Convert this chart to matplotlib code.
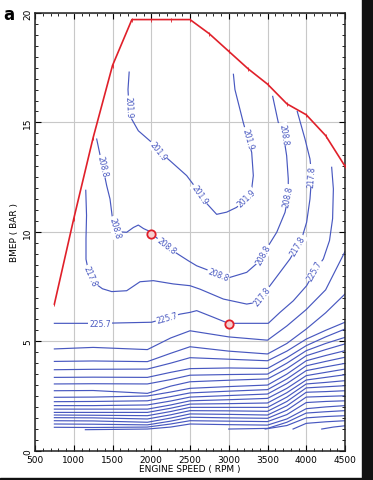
import numpy as np
import matplotlib
matplotlib.use('Agg')
import matplotlib.pyplot as plt
from matplotlib.patches import Rectangle

# full load (WOT) line
WOT_RPM = [750, 1000, 1250, 1500, 1750, 2000, 2250, 2500, 2750, 3000, 3250, 3500, 3750, 4000, 4250, 4500]
WOT_BMEP = [6.7, 10.6, 14.3, 17.6, 19.7, 19.7, 19.7, 19.7, 19.05, 18.25, 17.45, 16.75, 15.85, 15.35, 14.4, 13.0]

# operating points (red circles)
OP_RPM = [2000, 3000]
OP_BMEP = [9.9, 5.8]

# labelled BSFC contours
C1_RPM = [1715, 1700, 1712, 1748, 1833, 2005, 2091, 2242, 2457, 2586, 2715, 2844, 2973, 3102, 3230, 3296,
          3317, 3296, 3187, 3080, 3060]
C1_BMEP = [17.3, 16.5, 15.7, 15.15, 14.62, 14.09, 13.71, 13.25, 12.57, 11.96, 11.3, 10.8, 10.9, 11.12, 11.55,
           11.96, 12.57, 13.63, 15.0, 16.5, 17.2]
C2_RPM = [1296, 1340, 1373, 1425, 1468, 1500, 1532, 1600, 1683, 1770, 1833, 1900, 1962, 2113, 2306, 2478,
          2586, 2865, 3016, 3232, 3403, 3500, 3619, 3726, 3768, 3768, 3747, 3704, 3639, 3567]
C2_BMEP = [14.24, 13.5, 13.0, 12.11, 11.5, 10.6, 10.2, 10.0, 9.98, 10.2, 10.31, 10.15, 10.05, 9.6, 9.07, 8.68,
           8.45, 8.07, 7.92, 8.15, 8.68, 9.3, 9.98, 10.89, 11.65, 12.42, 13.48, 14.47, 15.0, 16.19]
C3_RPM = [1155, 1165, 1158, 1158, 1190, 1253, 1370, 1490, 1683, 1855, 2027, 2285, 2500, 2630, 2930, 3232,
          3360, 3532, 3661, 3790, 3940, 4005, 4048, 4070, 4048, 3984, 3884]
C3_BMEP = [11.9, 10.75, 9.7, 8.75, 8.2, 7.7, 7.4, 7.27, 7.31, 7.72, 7.77, 7.62, 7.54, 7.38, 6.93, 6.7,
           6.78, 7.54, 8.15, 8.76, 9.67, 10.44, 11.5, 12.57, 13.33, 14.24, 15.5]
C4_RPM = [750, 1340, 2005, 2130, 2371, 2500, 2586, 2800, 2995, 3510, 3661, 3833, 4005, 4113, 4220, 4300,
          4340, 4350, 4328]
C4_BMEP = [5.82, 5.82, 5.87, 6.0, 6.24, 6.32, 6.4, 6.1, 5.82, 5.82, 6.32, 6.85, 7.54, 8.22, 8.76, 9.6,
           10.6, 11.96, 12.95]

C1_LABEL, C2_LABEL, C3_LABEL, C4_LABEL = '201.9', '208.8', '217.8', '225.7'
C1_LABEL_AT = [(1712, 15.7), (2091, 13.71), (2629, 11.72), (3210, 11.6), (3270, 14.3)]
C2_LABEL_AT = [(1373, 13.0), (1532, 10.2), (2199, 9.37), (2865, 8.07), (3425, 8.99), (3704, 14.47), (3768, 11.65)]
C3_LABEL_AT = [(1200, 7.95), (3425, 7.08), (3897, 9.37), (4070, 12.57)]
C4_LABEL_AT = [(1339, 5.82), (2199, 6.1), (4113, 8.22)]

# unlabelled low-load contours, sampled at LOW_RPM
LOW_RPM = [750, 1250, 1950, 2250, 2500, 3000, 3500, 3750, 4000, 4250, 4500]
LOW_BMEP = [
    [4.65, 4.72, 4.62, 5.15, 5.48, 5.20, 5.05, 5.70, 6.45, 7.35, 9.10],
    [4.08, 4.10, 4.07, 4.45, 4.75, 4.55, 4.42, 4.90, 5.56, 6.30, 7.16],
    [3.70, 3.72, 3.73, 4.00, 4.25, 4.18, 4.11, 4.55, 5.10, 5.50, 5.87],
    [3.35, 3.36, 3.35, 3.58, 3.75, 3.78, 3.76, 4.25, 4.80, 5.20, 5.56],
    [3.05, 3.06, 3.05, 3.25, 3.45, 3.48, 3.50, 4.00, 4.57, 4.90, 5.18],
    [2.74, 2.75, 2.62, 2.95, 3.15, 3.22, 3.28, 3.75, 4.34, 4.62, 4.88],
    [2.44, 2.45, 2.50, 2.68, 2.85, 2.93, 3.00, 3.50, 4.11, 4.35, 4.57],
    [2.24, 2.25, 2.28, 2.47, 2.64, 2.72, 2.79, 3.28, 3.88, 4.08, 4.27],
    [2.06, 2.06, 2.09, 2.27, 2.45, 2.52, 2.59, 3.07, 3.66, 3.83, 3.99],
    [1.90, 1.90, 1.90, 2.09, 2.28, 2.33, 2.39, 2.85, 3.43, 3.58, 3.73],
    [1.75, 1.75, 1.75, 1.94, 2.13, 2.15, 2.18, 2.65, 3.23, 3.35, 3.47],
    [1.63, 1.62, 1.60, 1.79, 1.98, 1.98, 1.98, 2.45, 3.05, 3.12, 3.20],
    [1.51, 1.50, 1.45, 1.64, 1.83, 1.82, 1.80, 2.25, 2.87, 2.92, 2.97],
    [1.37, 1.36, 1.30, 1.49, 1.68, 1.66, 1.63, 2.05, 2.67, 2.70, 2.74],
    [1.22, 1.21, 1.18, 1.35, 1.53, 1.50, 1.48, 1.85, 2.45, 2.48, 2.51],
    [1.07, 1.06, 1.08, 1.22, 1.37, 1.35, 1.33, 1.65, 2.20, 2.25, 2.28],
]

# contours starting at the minimum load boundary
B1_RPM = [1150, 1950, 2250, 2500, 3000, 3500, 3750, 4000, 4250, 4500]
B1_BMEP = [0.96, 0.99, 1.08, 1.22, 1.19, 1.17, 1.45, 1.92, 2.00, 2.06]
B2_RPM = [3000, 3500, 3750, 4000, 4250, 4500]
B2_BMEP = [0.99, 1.02, 1.30, 1.72, 1.78, 1.83]
B3_RPM = [3470, 3750, 4000, 4250, 4500]
B3_BMEP = [0.99, 1.15, 1.50, 1.56, 1.60]
B4_RPM = [3830, 4000, 4250, 4500]
B4_BMEP = [0.99, 1.25, 1.32, 1.37]
B5_RPM = [4200, 4350, 4500]
B5_BMEP = [0.99, 1.08, 1.14]

BLUE = '#4858c0'
RED = '#e0202a'


def put_label(ax, xs, ys, x0, y0, text):
    # snap the label onto the polyline and rotate it along the segment
    pts = ax.transData.transform(np.column_stack([xs, ys]))
    p = ax.transData.transform((x0, y0))
    best = None
    for i in range(len(pts) - 1):
        a, b = pts[i], pts[i + 1]
        ab = b - a
        t = np.clip(np.dot(p - a, ab) / max(np.dot(ab, ab), 1e-9), 0, 1)
        q = a + t * ab
        d = np.hypot(*(p - q))
        if best is None or d < best[0]:
            best = (d, q, ab)
    _, q, ab = best
    ang = np.degrees(np.arctan2(ab[1], ab[0]))
    if ang > 90:
        ang -= 180
    if ang <= -90:
        ang += 180
    xd, yd = ax.transData.inverted().transform(q)
    ax.text(xd, yd, text, rotation=ang, rotation_mode='anchor', ha='center', va='center',
            fontsize=5.5, color=BLUE, zorder=4,
            bbox=dict(boxstyle='square,pad=0.1', fc='white', ec='none'))


def main():
    fig = plt.figure(figsize=(3.73, 4.81), dpi=100)
    ax = fig.add_axes([35 / 373, 1 - 451.7 / 481, 310 / 373, 437.7 / 481])
    ax.set_xlim(500, 4500)
    ax.set_ylim(0, 20)

    ax.set_xticks(range(500, 4501, 500))
    ax.set_xticks(range(500, 4501, 100), minor=True)
    ax.set_yticks([0, 5, 10, 15, 20])
    ax.set_yticks(np.arange(0, 20.01, 0.5), minor=True)
    ax.tick_params(which='both', direction='in', top=True, right=True, labelsize=6.5, pad=3)
    ax.tick_params(which='major', length=4, width=0.8)
    ax.tick_params(which='minor', length=2, width=0.6)
    ax.tick_params(axis='y', labelrotation=90, pad=2)
    for lbl in ax.get_yticklabels():
        lbl.set_va('center')
    ax.grid(True, which='major', color='#c8c8c8', linewidth=0.8)
    ax.set_axisbelow(True)
    for s in ax.spines.values():
        s.set_linewidth(1.1)
        s.set_color('#222222')

    ax.set_xlabel('ENGINE SPEED ( RPM )', fontsize=6.5, labelpad=0)
    ax.set_ylabel('BMEP ( BAR )', fontsize=6.5, labelpad=3)

    for row in LOW_BMEP:
        ax.plot(LOW_RPM, row, color=BLUE, lw=0.85, zorder=2)
    for xs, ys in [(B1_RPM, B1_BMEP), (B2_RPM, B2_BMEP), (B3_RPM, B3_BMEP), (B4_RPM, B4_BMEP), (B5_RPM, B5_BMEP)]:
        ax.plot(xs, ys, color=BLUE, lw=0.85, zorder=2)

    labelled = [(C1_RPM, C1_BMEP, C1_LABEL, C1_LABEL_AT), (C2_RPM, C2_BMEP, C2_LABEL, C2_LABEL_AT),
                (C3_RPM, C3_BMEP, C3_LABEL, C3_LABEL_AT), (C4_RPM, C4_BMEP, C4_LABEL, C4_LABEL_AT)]
    for xs, ys, text, spots in labelled:
        ax.plot(xs, ys, color=BLUE, lw=0.85, zorder=2)
        for x0, y0 in spots:
            put_label(ax, xs, ys, x0, y0, text)

    ax.plot(WOT_RPM, WOT_BMEP, color=RED, lw=1.2, marker='|', ms=2.5, mew=0.6, zorder=5)
    ax.plot(OP_RPM, OP_BMEP, ls='none', marker='o', ms=6, mfc='#f6d0d0', mec=RED, mew=1.3, zorder=6)

    fig.text(0.008, 0.968, 'a', fontsize=12, fontweight='bold', va='center', ha='left')
    fig.patches.append(Rectangle((362 / 373, 0), 11 / 373, 1, transform=fig.transFigure,
                                 color='#111111', zorder=10))
    fig.patches.append(Rectangle((0, 0), 1, 2.5 / 481, transform=fig.transFigure,
                                 color='#111111', zorder=10))

    fig.savefig('out.png', dpi=100)


if __name__ == '__main__':
    main()
